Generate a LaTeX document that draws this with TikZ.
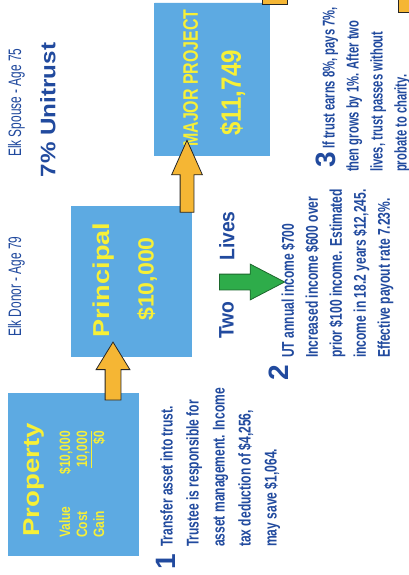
\documentclass[tikz,border=0pt]{standalone}
\usepackage{fontspec}
\setmainfont{Liberation Sans}
\usepackage{tikz}
\usetikzlibrary{shapes.misc,shapes.arrows}
\definecolor{boxblue}{RGB}{93,170,226}
\definecolor{txtyellow}{RGB}{247,240,55}
\definecolor{navy}{RGB}{33,74,158}
\definecolor{arrorange}{RGB}{245,182,52}
\definecolor{arrgreen}{RGB}{46,172,74}

\begin{document}
\begin{tikzpicture}[x=1pt,y=-1pt,
    box/.style={chamfered rectangle, chamfered rectangle xsep=8pt,
      chamfered rectangle ysep=8pt, fill=boxblue, draw=boxblue, inner sep=0pt},
    up/.style={rotate=90, inner sep=0pt},
    title/.style={up, anchor=north, text=txtyellow,
      font=\bfseries\fontsize{23}{23}\selectfont},
    note/.style={up, xscale=0.71, anchor=north west, align=left, text=navy,
      font=\bfseries\fontsize{17}{24}\selectfont},
    num/.style={up, text=navy, font=\bfseries\fontsize{28}{28}\selectfont},
    blockarrow/.style={single arrow, draw=black!85, line width=0.8pt,
      fill=arrorange, inner xsep=0pt}]
  \useasboundingbox[fill=white] (0,0) rectangle (409,575);

  % boxes
  \node[box, minimum width=130pt, minimum height=162pt] (prop) at (73,474) {};
  \node[box, minimum width=120pt, minimum height=150pt] (princ) at (131,281) {};
  \node[box, minimum width=115pt, minimum height=152pt] (major) at (212,79) {};

  % heading
  \node[up, anchor=north west, xscale=0.66, text=navy,
    font=\fontsize{18}{18}\selectfont] (donor) at (8,337) {Elk Donor - Age 79};
  \node[up, anchor=north west, xscale=0.66, text=navy,
    font=\fontsize{18}{18}\selectfont] (spouse) at (8,157) {Elk Spouse - Age 75};
  \node[up, anchor=north, xscale=1.15, text=navy,
    font=\bfseries\fontsize{21}{21}\selectfont] (unitrust) at (40,110) {7\% Unitrust};

  % box texts
  \node[title, xscale=1.2] (proptitle) at (23,480) {Property};
  \node[up, anchor=north west, xscale=0.8, text=txtyellow,
    font=\bfseries\fontsize{15}{17}\selectfont] (proptab) at (58,538)
    {\begin{tabular}{@{}l@{\hspace{40pt}}r@{}}
      Value & \$10,000\\
      Cost & \underline{10,000}\\
      Gain & \$0
    \end{tabular}};
  \node[title, xscale=1.18] (princtitle) at (93,280) {Principal};
  \node[title, xscale=1.05, font=\bfseries\fontsize{22}{22}\selectfont]
    (princval) at (137,279) {\$10,000};
  \node[title, xscale=0.76, font=\bfseries\fontsize{21}{21}\selectfont]
    (majortitle) at (183,78) {MAJOR PROJECT};
  \node[title, xscale=0.86, font=\bfseries\fontsize{28}{28}\selectfont]
    (majorval) at (220,93) {\$11,749};

  % arrows
  \node[blockarrow, rotate=90, minimum height=58pt, inner ysep=7.5pt,
    single arrow head extend=9pt, single arrow tip angle=63] (arr1) at (113,377.5) {};
  \node[blockarrow, rotate=90, minimum height=72pt, inner ysep=6.5pt,
    single arrow head extend=8.5pt, single arrow tip angle=48] (arr2) at (187,184) {};
  \node[single arrow, draw=arrgreen!60!black, line width=0.8pt, fill=arrgreen,
    inner xsep=0pt, inner ysep=7.5pt, minimum height=65pt,
    single arrow head extend=10pt, single arrow tip angle=55] (arrg) at (244.5,282) {};
  \node[up, anchor=north, xscale=0.92, text=navy,
    font=\bfseries\fontsize{21}{21}\selectfont] (two) at (219,320) {Two};
  \node[up, anchor=north, xscale=0.92, text=navy,
    font=\bfseries\fontsize{21}{21}\selectfont] (lives) at (219,236) {Lives};

  % cut-off pieces at the top edge
  \draw[draw=black!85, line width=0.8pt, fill=arrorange] (262,-3) rectangle (287,4);
  \draw[draw=black!85, line width=0.8pt, fill=arrorange] (398,-3) rectangle (412,12);

  % notes
  \node[num] (n1) at (166,562) {1};
  \node[note, font=\bfseries\fontsize{17}{26}\selectfont] (note1) at (160,547)
    {Transfer asset into trust.\\Trustee is responsible for\\asset management. Income\\tax deduction of \$4,256,\\may save \$1,064.};
  \node[num] (n2) at (279,373) {2};
  \node[note] (note2) at (281,358)
    {UT annual income \$700\\Increased income \$600 over\\prior \$100 income. Estimated\\income in 18.2 years \$12,245.\\Effective payout rate 7.23\%.};
  \node[num] (n3) at (326,160) {3};
  \node[note, xscale=0.93] (note3) at (322,172)
    {\hspace*{35pt}If trust earns 8\%, pays 7\%,\\then grows by 1\%. After two\\lives, trust passes without\\probate to charity.};
\end{tikzpicture}
\end{document}
